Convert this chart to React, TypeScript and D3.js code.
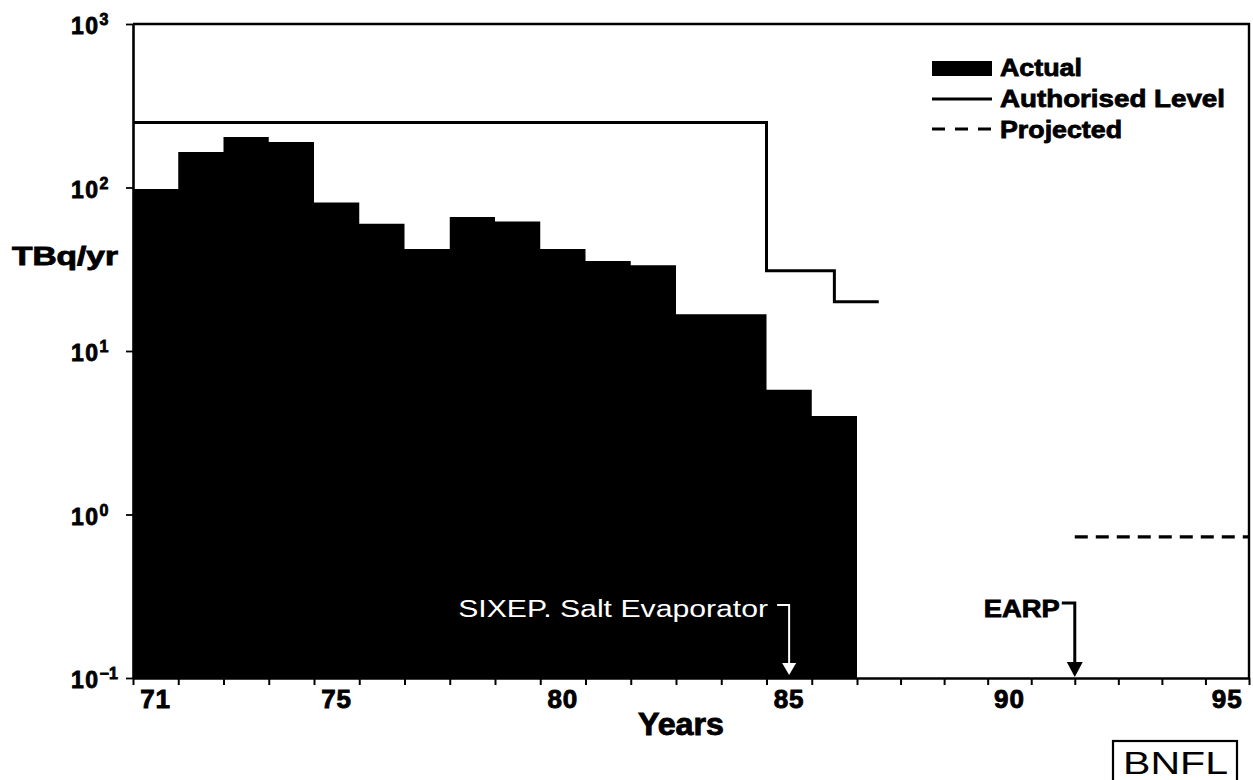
import { useEffect, useRef } from "react";
import * as d3 from "d3";

// discharge data (TBq/yr)
const years = [71, 72, 73, 74, 75, 76, 77, 78, 79, 80, 81, 82, 83, 84, 85, 86];
const actual = [98, 165, 204, 190, 81, 60, 42, 66, 62, 42, 35.5, 33.5, 16.8, 16.8, 5.8, 4.0];

// authorised level steps
const authYears = [71, 85, 86.5, 87.5];
const authLevels = [250, 31, 20, 20];

// projected level
const projYears = [92, 96];
const projLevels = [0.73, 0.73];

const xLabelYears = [71, 75, 80, 85, 90, 95];
const yTicks = [0.1, 1, 10, 100, 1000];
const yExponents = ["-1", "0", "1", "2", "3"];

const markerLabels = ["SIXEP. Salt Evaporator", "EARP"];
const markerYears = [85.5, 92];

const legendLabels = ["Actual", "Authorised Level", "Projected"];

export default function App() {
  const svgRef = useRef<SVGSVGElement | null>(null);
  const width = 1253;
  const height = 780;
  const left = 133;
  const right = 1249;
  const top = 24;
  const bottom = 678;
  const font = "'Liberation Sans', Arial, Helvetica, sans-serif";

  useEffect(() => {
    const svg = d3.select(svgRef.current);
    svg.selectAll("*").remove();

    // the scan is a little squeezed on the right, hence the three-point domain
    const x = d3.scaleLinear().domain([71, 87, 96]).range([left, 857, right]);
    const y = d3.scaleLog().domain([0.1, 1000]).range([bottom, top]);

    // bars: one stepped area so neighbouring years leave no seams
    const barPoints: [number, number][] = years.map((yr, i) => [yr, actual[i]]);
    barPoints.push([years[years.length - 1] + 1, actual[actual.length - 1]]);
    const barArea = d3.area<[number, number]>()
      .x(d => x(d[0]))
      .y0(bottom)
      .y1(d => y(d[1]))
      .curve(d3.curveStepAfter);
    svg.append("path")
      .attr("d", barArea(barPoints))
      .attr("fill", "#000");

    // authorised level
    const line = d3.line<number>()
      .x((d, i) => x(authYears[i]))
      .y(d => y(d))
      .curve(d3.curveStepAfter);
    svg.append("path")
      .attr("d", line(authLevels))
      .attr("fill", "none")
      .attr("stroke", "#000")
      .attr("stroke-width", 3);

    // projected
    const projLine = d3.line<number>()
      .x((d, i) => x(projYears[i]))
      .y(d => y(d));
    svg.append("path")
      .attr("d", projLine(projLevels))
      .attr("fill", "none")
      .attr("stroke", "#000")
      .attr("stroke-width", 3.2)
      .attr("stroke-dasharray", "13,8");

    // frame
    svg.append("path")
      .attr("d", `M${left},${top}H${right}V${bottom}`)
      .attr("fill", "none")
      .attr("stroke", "#000")
      .attr("stroke-width", 2.4);

    // x axis
    const xAxis = d3.axisBottom(x)
      .tickValues(d3.range(71, 97))
      .tickSize(7)
      .tickSizeOuter(0)
      .tickFormat(() => "");
    svg.append("g")
      .attr("transform", `translate(0,${bottom})`)
      .call(xAxis)
      .call(g => {
        g.select(".domain").attr("stroke-width", 2.6);
        g.selectAll(".tick line").attr("stroke-width", 2);
      });

    svg.append("g")
      .selectAll("text")
      .data(xLabelYears)
      .join("text")
      .attr("x", d => x(d + 0.5))
      .attr("y", 708)
      .attr("text-anchor", "middle")
      .attr("font-family", font)
      .attr("font-weight", "bold")
      .attr("font-size", 26)
      .attr("letter-spacing", 1)
      .attr("stroke", "#000")
      .attr("stroke-width", 0.9)
      .text(d => String(d));

    svg.append("text")
      .attr("x", 638)
      .attr("y", 735)
      .attr("font-family", font)
      .attr("font-weight", "bold")
      .attr("font-size", 31)
      .attr("textLength", 86)
      .attr("lengthAdjust", "spacingAndGlyphs")
      .attr("stroke", "#000")
      .attr("stroke-width", 0.9)
      .text("Years");

    // y axis
    const yAxis = d3.axisLeft(y)
      .tickValues(yTicks)
      .tickSize(7)
      .tickSizeOuter(0)
      .tickFormat(() => "");
    svg.append("g")
      .attr("transform", `translate(${left},0)`)
      .call(yAxis)
      .call(g => {
        g.select(".domain").attr("stroke-width", 2.6);
        g.selectAll(".tick line").attr("stroke-width", 1.8);
      });

    const yLabels = svg.append("g")
      .selectAll("text")
      .data(yTicks)
      .join("text")
      .attr("x", 71)
      .attr("y", d => y(d) + 10)
      .attr("font-family", font)
      .attr("font-weight", "bold")
      .attr("font-size", 23)
      .attr("letter-spacing", 1.5)
      .attr("stroke", "#000")
      .attr("stroke-width", 0.8);
    yLabels.append("tspan").text("10");
    yLabels.append("tspan")
      .attr("dy", -9)
      .attr("font-size", 16)
      .attr("letter-spacing", 0)
      .text((d, i) => yExponents[i].replace("-", "\u2212"));

    svg.append("text")
      .attr("x", 12)
      .attr("y", 265)
      .attr("font-family", font)
      .attr("font-weight", "bold")
      .attr("font-size", 26)
      .attr("textLength", 106)
      .attr("lengthAdjust", "spacingAndGlyphs")
      .attr("stroke", "#000")
      .attr("stroke-width", 0.9)
      .text("TBq/yr");

    // markers
    const sx = x(markerYears[0]);
    svg.append("text")
      .attr("x", sx - 21)
      .attr("y", 617)
      .attr("text-anchor", "end")
      .attr("fill", "#fff")
      .attr("font-family", font)
      .attr("font-size", 23)
      .attr("textLength", 310)
      .attr("lengthAdjust", "spacingAndGlyphs")
      .text(markerLabels[0]);
    svg.append("path")
      .attr("d", `M${sx - 12},605H${sx}V664`)
      .attr("fill", "none")
      .attr("stroke", "#fff")
      .attr("stroke-width", 2);
    svg.append("path")
      .attr("d", `M${sx - 7},663L${sx + 7},663L${sx},675Z`)
      .attr("fill", "#fff");

    const ex = x(markerYears[1]);
    svg.append("text")
      .attr("x", ex - 15)
      .attr("y", 617)
      .attr("text-anchor", "end")
      .attr("font-family", font)
      .attr("font-weight", "bold")
      .attr("font-size", 24)
      .attr("textLength", 76)
      .attr("lengthAdjust", "spacingAndGlyphs")
      .attr("stroke", "#000")
      .attr("stroke-width", 0.8)
      .text(markerLabels[1]);
    svg.append("path")
      .attr("d", `M${ex - 13},603H${ex}V664`)
      .attr("fill", "none")
      .attr("stroke", "#000")
      .attr("stroke-width", 3);
    svg.append("path")
      .attr("d", `M${ex - 8},662L${ex + 8},662L${ex},677Z`)
      .attr("fill", "#000");

    // legend
    const lg = svg.append("g").attr("transform", "translate(932,0)");
    lg.append("rect")
      .attr("x", 0).attr("y", 61).attr("width", 60).attr("height", 15)
      .attr("fill", "#000");
    lg.append("line")
      .attr("x1", 0).attr("x2", 60).attr("y1", 99).attr("y2", 99)
      .attr("stroke", "#000").attr("stroke-width", 3);
    lg.append("line")
      .attr("x1", 0).attr("x2", 60).attr("y1", 129).attr("y2", 129)
      .attr("stroke", "#000").attr("stroke-width", 3.2)
      .attr("stroke-dasharray", "13,10");
    const legendWidths = [82, 225, 122];
    lg.selectAll("text.leg")
      .data(legendLabels)
      .join("text")
      .attr("class", "leg")
      .attr("x", 68)
      .attr("y", (d, i) => 76 + i * 31)
      .attr("font-family", font)
      .attr("font-weight", "bold")
      .attr("font-size", 24)
      .attr("textLength", (d, i) => legendWidths[i])
      .attr("lengthAdjust", "spacingAndGlyphs")
      .attr("stroke", "#000")
      .attr("stroke-width", 0.8)
      .text(d => d);

    // BNFL logo box
    svg.append("rect")
      .attr("x", 1113).attr("y", 741).attr("width", 124).attr("height", 60)
      .attr("fill", "none").attr("stroke", "#000").attr("stroke-width", 2.2);
    svg.append("text")
      .attr("x", 1123)
      .attr("y", 774)
      .attr("font-family", font)
      .attr("font-size", 32)
      .attr("textLength", 105)
      .attr("lengthAdjust", "spacingAndGlyphs")
      .text("BNFL");
  }, []);

  return (
    <svg
      ref={svgRef}
      width={width}
      height={height}
      style={{ position: "fixed", left: 0, top: 0, background: "#fff" }}
    />
  );
}
